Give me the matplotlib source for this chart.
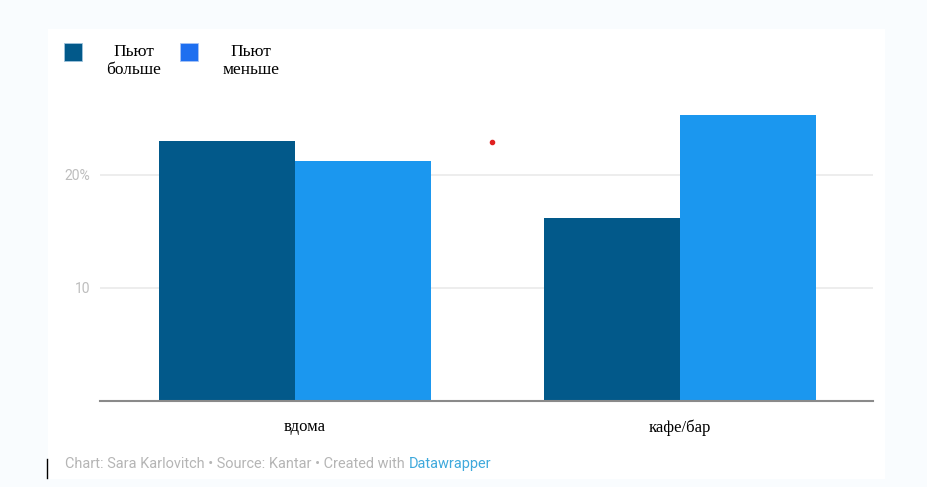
import numpy as np
import matplotlib.pyplot as plt
from matplotlib.patches import Rectangle

# data
categories = ['вдома', 'кафе/бар']
drink_more = [23.0, 16.2]
drink_less = [21.2, 25.3]
legend_labels = ['Пьют\nбольше', 'Пьют\nменьше']
yticks = [10, 20]
ytick_labels = ['10', '20%']

dark = '#02598a'
light = '#1b97ef'

fig = plt.figure(figsize=(9.27, 4.87), dpi=100, facecolor='#f9fcfe')
# white panel behind the chart
fig.patches.append(Rectangle((48 / 927, 8 / 487), 837 / 927, 450 / 487,
                             transform=fig.transFigure, facecolor='white',
                             edgecolor='none', zorder=-5))

ax = fig.add_axes([100 / 927, 86 / 487, 773 / 927, 301 / 487], zorder=2)
ax.set_facecolor('none')

x = np.arange(len(categories))
w = 0.353
ax.bar(x - w / 2, drink_more, width=w, color=dark, zorder=3)
ax.bar(x + w / 2, drink_less, width=w, color=light, zorder=3)

ax.set_xlim(-0.506, 1.501)
ax.set_ylim(0, 26.6)
ax.set_yticks(yticks)
ax.set_yticklabels(ytick_labels, color='#bdbdbd', fontsize=10, family='Roboto')
ax.tick_params(axis='y', length=0, pad=7)
ax.grid(axis='y', color='#ececec', linewidth=1.3, zorder=0)
ax.set_xticks([0.026, 1.0])
ax.set_xticklabels(categories, family='Liberation Serif', fontsize=12, color='black')
ax.tick_params(axis='x', length=0, pad=13)
for s in ['top', 'right', 'left']:
    ax.spines[s].set_visible(False)
ax.spines['bottom'].set_color('#8a8a8a')
ax.spines['bottom'].set_linewidth(1.5)
ax.spines['bottom'].set_zorder(4)

# legend drawn by hand, like the pasted image
fig.patches.append(Rectangle((64 / 927, 1 - 61 / 487), 18 / 927, 18 / 487,
                             transform=fig.transFigure, facecolor=dark, edgecolor='#9fc3dc', lw=0.6))
fig.patches.append(Rectangle((180 / 927, 1 - 61 / 487), 18 / 927, 18 / 487,
                             transform=fig.transFigure, facecolor='#1e6ff0', edgecolor='#a8c4f5', lw=0.6))
fig.text(134 / 927, 1 - 61 / 487, legend_labels[0], ha='center', va='center',
         family='Liberation Serif', fontsize=12.5, linespacing=1.2)
fig.text(251 / 927, 1 - 61 / 487, legend_labels[1], ha='center', va='center',
         family='Liberation Serif', fontsize=12.5, linespacing=1.2)

# red dot
fig.add_artist(plt.Line2D([492 / 927], [1 - 142 / 487], transform=fig.transFigure,
                          marker='o', markersize=3, color='#e02020', lw=0))

# footer
t = fig.text(65 / 927, 1 - 464 / 487, 'Chart: Sara Karlovitch • Source: Kantar • Created with ',
             color='#b5b5b5', family='Roboto', fontsize=10.45, va='center')
fig.canvas.draw()
bb = t.get_window_extent()
fig.text(bb.x1 / 927, 1 - 464 / 487, 'Datawrapper', color='#3fa9dc', family='Roboto',
         fontsize=10.45, va='center')

# cursor line at bottom left
fig.add_artist(plt.Line2D([47 / 927, 47 / 927], [1 - 478 / 487, 1 - 459 / 487],
                          transform=fig.transFigure, color='black', lw=1))

fig.savefig('out.png', dpi=100, facecolor=fig.get_facecolor())
